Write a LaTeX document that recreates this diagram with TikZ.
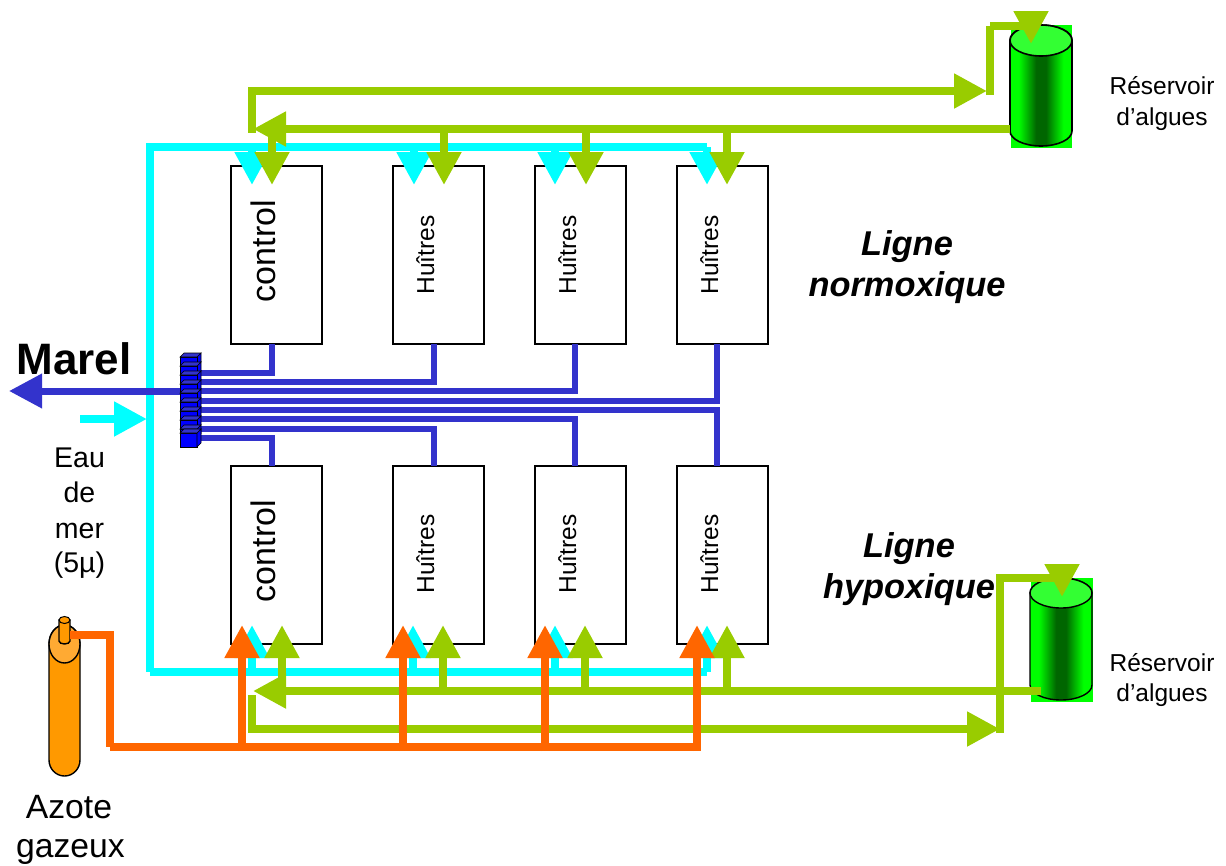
\documentclass[tikz,border=0pt]{standalone}
\usepackage{fontspec}
\setmainfont{Liberation Sans}
\usetikzlibrary{arrows.meta}
\definecolor{algae}{HTML}{99CC00}
\definecolor{sea}{HTML}{00FFFF}
\definecolor{marel}{HTML}{3333CC}
\definecolor{azote}{HTML}{FF6600}
\definecolor{bottle}{HTML}{FF9900}
\definecolor{bottletop}{HTML}{FFAA33}
\definecolor{tankbright}{HTML}{00FF00}
\definecolor{tankdark}{HTML}{006600}
\definecolor{tanktop}{HTML}{33FF33}
\pgfdeclarehorizontalshading{tankshade}{100bp}{color(0bp)=(tankbright);color(32bp)=(tankbright);color(46bp)=(tankdark);color(54bp)=(tankdark);color(68bp)=(tankbright);color(100bp)=(tankbright)}
\tikzset{
 pipe/.style={line width=8pt},
 bluepipe/.style={line width=6pt,draw=marel},
 head/.style={-{Triangle[length=33pt,width=33pt]}},
 tankbox/.style={draw=black,line width=2pt,minimum width=91pt,minimum height=178pt,inner sep=0pt,fill=white},
 ctrl/.style={rotate=90,anchor=base,inner sep=0pt,font=\fontsize{34}{38}\selectfont},
 oyster/.style={rotate=90,anchor=base,inner sep=0pt,font=\fontsize{24.5}{28}\selectfont},
 title/.style={anchor=base,inner sep=0pt,font=\fontsize{34.4}{38}\selectfont\bfseries\itshape},
 small/.style={anchor=base,inner sep=0pt,font=\fontsize{24.5}{28}\selectfont},
 medium/.style={anchor=base,inner sep=0pt,font=\fontsize{28.5}{32}\selectfont},
 large/.style={anchor=base,inner sep=0pt,font=\fontsize{33.7}{38}\selectfont},
}
\begin{document}
\begin{tikzpicture}[x=1pt,y=-1pt]
\useasboundingbox (0,0) rectangle (1226,865);
% boxes
\foreach \n/\x in {a/276.5,b/438.5,c/580.5,d/722.5}{
  \node[tankbox] (top\n) at (\x,255) {};
  \node[tankbox] (bot\n) at (\x,555) {};
}
\node[ctrl] (ltop) at (275,251) {control};
\node[ctrl] (lbot) at (275,551) {control};
\foreach \n/\x in {b/434,c/576,d/718}{
  \node[oyster] (ltop\n) at (\x,255) {Huîtres};
  \node[oyster] (lbot\n) at (\x,554) {Huîtres};
}
% named waypoints
\coordinate (cyanTL) at (150,147);
\coordinate (cyanBL) at (150,672);
\coordinate (cyanTR) at (707,147);
\coordinate (cyanBR) at (707,672);
\coordinate (inS) at (80,419);
\coordinate (inE) at (147,419);
% cyan
\draw[pipe,sea] (cyanTL) -- (cyanTR);
\draw[pipe,sea] (150,143) -- (cyanBL);
\draw[pipe,sea] (cyanBL) -- (cyanBR);
\draw[pipe,sea,head] (inS) -- (inE);
\foreach \x in {252,414,555,707}{
  \coordinate (cy) at (\x,185);
  \draw[pipe,sea,head] (\x,147) -- (cy);
}
\foreach \x in {252,413,555,707}{
  \coordinate (cy) at (\x,625);
  \draw[pipe,sea,head] (\x,672) -- (cy);
}
% top algae circuit
\path[fill=tankbright] (1011,25) rectangle (1072,148);
\path[shading=tankshade,draw=black,line width=1.6pt]
  (1010,40) -- (1010,131) arc[start angle=180,end angle=0,x radius=31,y radius=15] -- (1072,40) arc[start angle=0,end angle=-180,x radius=31,y radius=15] -- cycle;
\path[fill=tanktop,draw=black,line width=1.6pt] (1041,40.5) ellipse[x radius=31,y radius=15.5];
\coordinate (g1) at (252,91);
\coordinate (g2) at (987,91);
\coordinate (g3) at (990,26);
\coordinate (g4) at (1031,26);
\coordinate (g5) at (1031,44);
\coordinate (g6) at (1010,129);
\coordinate (g7) at (253,129);
\draw[pipe,algae,head] (g1) -- (g2);
\draw[pipe,algae] (252,87) -- (252,133);
\draw[pipe,algae] (990,95) -- (g3);
\draw[pipe,algae] (g3) -- (g4);
\draw[pipe,algae,head] (1031,11) -- (g5);
\draw[pipe,algae,head] (g6) -- (g7);
\foreach \x in {272,444,586,727}{
  \coordinate (gd) at (\x,185);
  \draw[pipe,algae,head] (\x,129) -- (gd);
}
% bottom algae circuit
\path[fill=tankbright] (1031,578) rectangle (1093,702);
\path[shading=tankshade,draw=black,line width=1.4pt]
  (1030,593) -- (1030,685) arc[start angle=180,end angle=0,x radius=31,y radius=15] -- (1092,593) arc[start angle=0,end angle=-180,x radius=31,y radius=15] -- cycle;
\path[fill=tanktop,draw=black,line width=1.4pt] (1061,593) ellipse[x radius=31,y radius=15];
\coordinate (h1) at (252,729);
\coordinate (h2) at (1000,729);
\coordinate (h3) at (1000,578);
\coordinate (h4) at (1062,578);
\coordinate (h5) at (1062,597);
\coordinate (h6) at (1041,691);
\coordinate (h7) at (253,691);
\draw[pipe,algae,head] (h6) -- (h7);
\draw[pipe,algae] (252,695) -- (252,733);
\draw[pipe,algae,head] (h1) -- (h2);
\draw[pipe,algae] (1000,733) -- (h3);
\draw[pipe,algae] (996,578) -- (h4);
\draw[pipe,algae,head] (1062,564) -- (h5);
\foreach \x in {282,443,585,727}{
  \coordinate (gu) at (\x,625);
  \draw[pipe,algae,head] (\x,691) -- (gu);
}
% blue lines
\foreach \y/\xe/\ye in {373/272/344,382/434/344,391/575/344,401/717/344,410/717/466,419/575/466,429/434/466,438/272/466}{
  \coordinate (bs) at (200,\y);
  \coordinate (bc) at (\xe,\y);
  \coordinate (be) at (\xe,\ye);
  \draw[bluepipe] (bs) -- (bc);
  \ifnum\ye=344
    \draw[bluepipe] (\xe,\y+3) -- (be);
  \else
    \draw[bluepipe] (\xe,\y-3) -- (be);
  \fi
}
\coordinate (mo) at (181,391);
\coordinate (mt) at (9,391);
\draw[line width=7pt,marel,-{Triangle[length=33pt,width=33pt]}] (mo) -- (mt);
% manifold
\foreach \i in {0,...,8}{
  \pgfmathsetmacro{\yy}{353+\i*9.0}
  \path[fill=blue,draw=black,line width=0.6pt] (197,\yy+4) -- (201,\yy) -- (201,\yy+9) -- (197,\yy+13) -- cycle;
  \path[fill=blue,draw=black,line width=0.6pt] (180,\yy+4) rectangle (197,\yy+13);
  \path[fill=marel,draw=black,line width=0.6pt] (180,\yy+4) -- (184,\yy) -- (201,\yy) -- (197,\yy+4) -- cycle;
}
\path[fill=blue,draw=black,line width=0.6pt] (180,433) rectangle (197,447);
\path[fill=blue,draw=black,line width=0.6pt] (197,433) -- (201,429) -- (201,443) -- (197,447) -- cycle;
\path[fill=marel,draw=black,line width=0.6pt] (180,433) -- (184,429) -- (201,429) -- (197,433) -- cycle;
% bottle
\path[fill=bottle,draw=black,line width=1.4pt] (49,644) arc[start angle=180,end angle=360,x radius=15.5,y radius=19] -- (80,760) arc[start angle=0,end angle=180,x radius=15.5,y radius=16] -- cycle;
\path[fill=bottletop,draw=black,line width=1.4pt] (64.5,644) ellipse[x radius=15.5,y radius=19];
\path[fill=bottle,draw=black,line width=1.4pt] (59,620) -- (70,620) -- (70,641) arc[start angle=0,end angle=180,x radius=5.5,y radius=3] -- cycle;
\path[draw=black,line width=1pt,fill=bottle] (64.5,620) ellipse[x radius=5.5,y radius=3.5];
% orange
\coordinate (o1) at (70,635);
\coordinate (o2) at (110,635);
\coordinate (o3) at (110,747);
\coordinate (o4) at (697,747);
\draw[pipe,azote] (o1) -- (o2);
\draw[pipe,azote] (110,631) -- (o3);
\draw[pipe,azote] (o3) -- (o4);
\foreach \x in {242,403,545,697}{
  \coordinate (ou) at (\x,625);
  \draw[pipe,azote,head] (\x,751) -- (ou);
}
% labels
\node[anchor=base,inner sep=0pt,font=\fontsize{44}{48}\selectfont\bfseries] (tMarel) at (74,374) {Marel};
\node[medium] (e1) at (79.5,467) {Eau};
\node[medium] (e2) at (79.5,502) {de};
\node[medium] (e3) at (79.5,538) {mer};
\node[medium] (e4) at (79.5,572) {(5µ)};
\node[large] (az1) at (69,818) {Azote};
\node[large] (az2) at (70.5,857) {gazeux};
\node[title] (n1) at (907,255) {Ligne};
\node[title] (n2) at (907,296) {normoxique};
\node[title] (n3) at (909,557) {Ligne};
\node[title] (n4) at (909,598) {hypoxique};
\node[small] (r1) at (1162,94) {Réservoir};
\node[small] (r2) at (1162,125) {d’algues};
\node[small] (r3) at (1162,671) {Réservoir};
\node[small] (r4) at (1162,701) {d’algues};
\end{tikzpicture}
\end{document}
